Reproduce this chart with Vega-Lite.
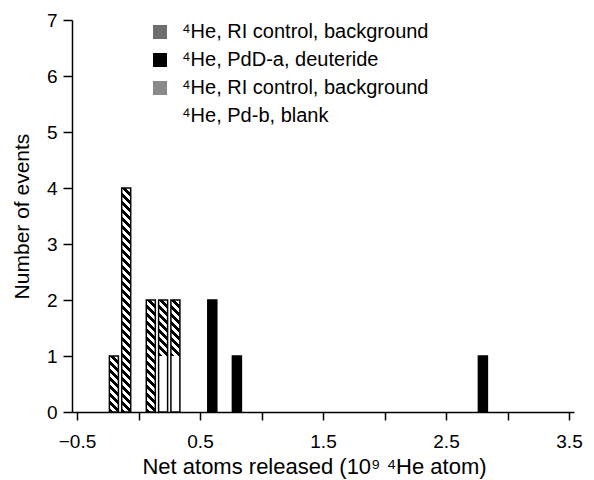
{
  "$schema": "https://vega.github.io/schema/vega-lite/v6.json",
  "width": 502,
  "height": 392,
  "autosize": {"type": "none"},
  "padding": {"left": 72, "top": 20, "right": 20, "bottom": 68},
  "background": "white",
  "config": {
    "view": {"stroke": null},
    "font": "Liberation Sans",
    "axis": {
      "grid": false,
      "domainColor": "black",
      "tickColor": "black",
      "labelColor": "black",
      "titleColor": "black",
      "domainWidth": 1.5,
      "tickWidth": 1.5,
      "labelFont": "Liberation Sans",
      "titleFont": "Liberation Sans",
      "titleFontWeight": "normal"
    }
  },
  "data": {
    "values": [
      {"x": -0.2, "sample": "A", "events": 1},
      {"x": -0.1, "sample": "A", "events": 1},
      {"x": -0.1, "sample": "A", "events": 1},
      {"x": -0.1, "sample": "A", "events": 1},
      {"x": -0.1, "sample": "A", "events": 1},
      {"x": 0.1, "sample": "A", "events": 1},
      {"x": 0.1, "sample": "A", "events": 1},
      {"x": 0.2, "sample": "D", "events": 1},
      {"x": 0.2, "sample": "A", "events": 1},
      {"x": 0.3, "sample": "D", "events": 1},
      {"x": 0.3, "sample": "A", "events": 1},
      {"x": 0.6, "sample": "B", "events": 1},
      {"x": 0.6, "sample": "B", "events": 1},
      {"x": 0.8, "sample": "B", "events": 1},
      {"x": 2.8, "sample": "B", "events": 1}
    ]
  },
  "layer": [
    {
      "mark": {"type": "bar", "size": 9, "opacity": 0},
      "encoding": {
        "x": {
          "field": "x",
          "type": "quantitative",
          "title": "Net atoms released (10⁹ ⁴He atom)",
          "scale": {"domain": [-0.5, 3.5], "nice": false, "zero": false},
          "axis": {
            "values": [-0.5, 0, 0.5, 1, 1.5, 2, 2.5, 3, 3.5],
            "labelExpr": "abs(datum.value - floor(datum.value) - 0.5) < 0.01 ? format(datum.value, '.1f') : ''",
            "labelOverlap": false,
            "labelFlush": false,
            "labelFontSize": 19,
            "labelPadding": 12,
            "tickSize": 8,
            "titleFontSize": 22,
            "titleX": 242,
            "titleY": 61,
            "titleBaseline": "alphabetic"
          }
        },
        "y": {
          "field": "events",
          "type": "quantitative",
          "stack": "zero",
          "title": "Number of events",
          "scale": {"domain": [0, 7], "nice": false},
          "axis": {
            "values": [0, 1, 2, 3, 4, 5, 6, 7],
            "labelExpr": "format(datum.value, 'd')",
            "labelFontSize": 19,
            "labelPadding": 6,
            "tickSize": 9,
            "titleFontSize": 21,
            "titleX": -44,
            "titleY": 196,
            "titleBaseline": "alphabetic"
          }
        },
        "fill": {
          "field": "sample",
          "type": "nominal",
          "scale": {"domain": ["A", "B", "C", "D"], "range": ["#6e6e6e", "black", "#8a8a8a", "white"]},
          "legend": {
            "orient": "none",
            "legendX": 78,
            "legendY": 2,
            "title": null,
            "symbolType": "square",
            "symbolSize": 196,
            "labelFontSize": 20,
            "labelFont": "Liberation Sans",
            "labelColor": "black",
            "labelLimit": 400,
            "rowPadding": 8,
            "labelOffset": 12,
            "labelExpr": "datum.value == 'A' ? '⁴He, RI control, background' : datum.value == 'B' ? '⁴He, PdD-a, deuteride' : datum.value == 'C' ? '⁴He, RI control, background' : '⁴He, Pd-b, blank'"
          }
        },
        "order": {"field": "sample", "sort": "descending"}
      }
    },
    {
      "mark": {"type": "bar", "size": 9},
      "encoding": {
        "x": {"field": "x", "type": "quantitative", "title": "Net atoms released (10⁹ ⁴He atom)"},
        "y": {"field": "events", "type": "quantitative", "stack": "zero", "title": "Number of events"},
        "fill": {
          "condition": [
            {"test": "datum.sample == 'A'", "value": {"gradient": "linear", "x1": 0, "y1": 1, "x2": 0.1818, "y2": -0.1315, "stops": [
                {"offset": 0, "color": "black"}, {"offset": 0.0615, "color": "black"}, {"offset": 0.0615, "color": "white"}, {"offset": 0.1231, "color": "white"},
                {"offset": 0.1231, "color": "black"}, {"offset": 0.1846, "color": "black"}, {"offset": 0.1846, "color": "white"}, {"offset": 0.2462, "color": "white"},
                {"offset": 0.2462, "color": "black"}, {"offset": 0.3077, "color": "black"}, {"offset": 0.3077, "color": "white"}, {"offset": 0.3692, "color": "white"},
                {"offset": 0.3692, "color": "black"}, {"offset": 0.4308, "color": "black"}, {"offset": 0.4308, "color": "white"}, {"offset": 0.4923, "color": "white"},
                {"offset": 0.4923, "color": "black"}, {"offset": 0.5538, "color": "black"}, {"offset": 0.5538, "color": "white"}, {"offset": 0.6154, "color": "white"},
                {"offset": 0.6154, "color": "black"}, {"offset": 0.6769, "color": "black"}, {"offset": 0.6769, "color": "white"}, {"offset": 0.7385, "color": "white"},
                {"offset": 0.7385, "color": "black"}, {"offset": 0.8, "color": "black"}, {"offset": 0.8, "color": "white"}, {"offset": 0.8615, "color": "white"},
                {"offset": 0.8615, "color": "black"}, {"offset": 0.9231, "color": "black"}, {"offset": 0.9231, "color": "white"}, {"offset": 0.9846, "color": "white"},
                {"offset": 0.9846, "color": "black"}, {"offset": 1, "color": "black"}
              ]}},
            {"test": "datum.sample == 'B'", "value": "black"}
          ],
          "value": "white"
        },
        "order": {"field": "sample", "sort": "descending"}
      }
    },
    {
      "mark": {"type": "bar", "size": 9, "fill": "transparent", "stroke": "black", "strokeWidth": 1.5},
      "encoding": {
        "x": {"field": "x", "type": "quantitative", "title": "Net atoms released (10⁹ ⁴He atom)"},
        "y": {"aggregate": "sum", "field": "events", "type": "quantitative", "title": "Number of events"}
      }
    }
  ]
}
